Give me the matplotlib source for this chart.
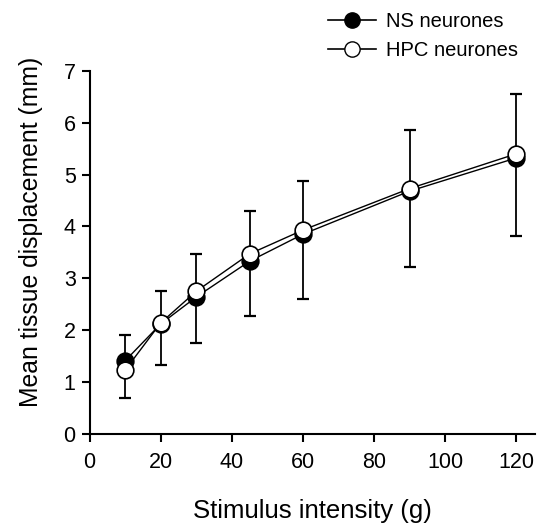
import matplotlib
matplotlib.use("Agg")
import matplotlib.pyplot as plt
from matplotlib.lines import Line2D

plt.rcParams['font.family'] = ['Liberation Sans', 'DejaVu Sans']

# stimulus intensity (g)
intensity = [10, 20, 30, 45, 60, 90, 120]
# mean tissue displacement (mm)
ns_mean = [1.41, 2.12, 2.64, 3.33, 3.85, 4.68, 5.32]
hpc_mean = [1.23, 2.14, 2.75, 3.47, 3.93, 4.73, 5.40]
# error bar ends (mm)
err_top = [1.90, 2.75, 3.47, 4.30, 4.88, 5.85, 6.56]
err_bottom = [0.69, 1.32, 1.75, 2.28, 2.60, 3.21, 3.81]

fig = plt.figure(figsize=(5.38, 5.23), dpi=100)
ax = fig.add_axes([0.1664, 0.1702, 0.8280, 0.6946])

# error bars (drawn as asymmetric around the midpoint of both series)
mid = [(a + b) / 2 for a, b in zip(ns_mean, hpc_mean)]
lower = [m - b for m, b in zip(mid, err_bottom)]
upper = [t - m for m, t in zip(mid, err_top)]
ax.errorbar(intensity, mid, yerr=[lower, upper], fmt='none', ecolor='black',
            elinewidth=1.3, capsize=4.3, capthick=1.6, zorder=1)

ax.plot(intensity, ns_mean, color='black', lw=1.0, marker='o', ms=12,
        mfc='black', mec='black', mew=1.2, zorder=3)
ax.plot(intensity, hpc_mean, color='black', lw=1.0, marker='o', ms=12,
        mfc='white', mec='black', mew=1.2, zorder=4)

ax.set_xlim(0, 125.2)
ax.set_ylim(0, 7)
ax.set_xticks([0, 20, 40, 60, 80, 100, 120])
ax.set_yticks(range(0, 8))
ax.spines['top'].set_visible(False)
ax.spines['right'].set_visible(False)
for s in ['left', 'bottom']:
    ax.spines[s].set_linewidth(1.5)
ax.tick_params(direction='out', length=6, width=1.5, labelsize=15.5, pad=4)
ax.tick_params(axis='x', pad=7)

ax.set_xlabel('Stimulus intensity (g)', fontsize=18.5, labelpad=19)
ax.set_ylabel('Mean tissue displacement (mm)', fontsize=17.8)
ax.yaxis.set_label_coords(-0.105, 0.556)

handles = [
    Line2D([], [], color='black', lw=1.2, marker='o', ms=11, mfc='black', mec='black'),
    Line2D([], [], color='black', lw=1.2, marker='o', ms=11, mfc='white', mec='black'),
]
fig.legend(handles, ['NS neurones', 'HPC neurones'], loc='upper left',
           bbox_to_anchor=(0.576, 1.012), frameon=False, fontsize=14.5,
           handlelength=2.4, handletextpad=0.5, labelspacing=0.5)

fig.savefig('out.png', dpi=100)
